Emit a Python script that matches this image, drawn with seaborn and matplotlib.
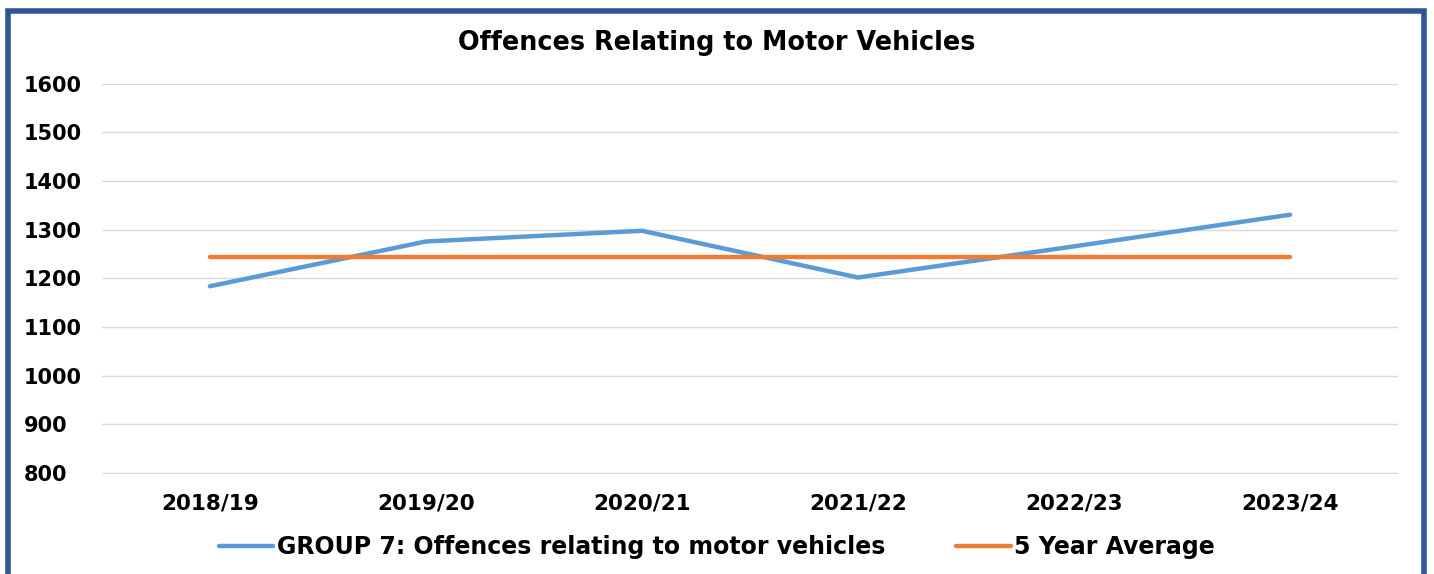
import numpy as np
import pandas as pd
import matplotlib.pyplot as plt
import seaborn as sns
from matplotlib.patches import Rectangle
from matplotlib.lines import Line2D

sns.set_style("white")
plt.rcParams['font.family'] = ['DejaVu Sans']
plt.rcParams['text.color'] = 'black'
plt.rcParams['xtick.color'] = 'black'
plt.rcParams['ytick.color'] = 'black'

years = ['2018/19', '2019/20', '2020/21', '2021/22', '2022/23', '2023/24']
offences = [1184, 1276, 1298, 1202, 1266, 1331]
five_year_avg = [1245, 1245, 1245, 1245, 1245, 1245]

series_names = ['GROUP 7: Offences relating to motor vehicles', '5 Year Average']
colors = {series_names[0]: '#5B9BD5', series_names[1]: '#ED7D31'}

df = pd.DataFrame({
    'Value': offences + five_year_avg,
    'Series': [series_names[0]] * len(years) + [series_names[1]] * len(years),
})
df['x'] = np.tile(np.arange(len(years)), 2)

fig = plt.figure(figsize=(14.34, 5.74), dpi=100)
ax = fig.add_axes([0.071, 0.174, 0.904, 0.680])

sns.lineplot(data=df, x='x', y='Value', hue='Series', palette=colors,
             linewidth=3.2, ax=ax, legend=False, solid_capstyle='round')

ax.set_xlim(-0.5, len(years) - 0.5)
ax.set_ylim(798, 1600)
ax.set_yticks(np.arange(800, 1601, 100))
ax.set_xticks(np.arange(len(years)))
ax.set_xticklabels(years, fontsize=15.5, fontweight='bold')
for lbl in ax.get_yticklabels():
    lbl.set_fontsize(15)
    lbl.set_fontweight('bold')
    lbl.set_horizontalalignment('left')
ax.tick_params(axis='y', pad=56, length=0)
ax.tick_params(axis='x', pad=14, length=0)
ax.grid(True, axis='y', color='#D9D9D9', linewidth=1)
ax.set_axisbelow(True)
for s in ax.spines.values():
    s.set_visible(False)
ax.set_xlabel('')
ax.set_ylabel('')

fig.text(0.5, 0.925, 'Offences Relating to Motor Vehicles', ha='center', va='center',
         fontsize=18.4, fontweight='bold')

handles = [Line2D([0], [0], color=colors[n], linewidth=3.2) for n in series_names]
fig.legend(handles, series_names, loc='center', bbox_to_anchor=(0.5, 0.047), ncol=2,
           frameon=False, prop={'size': 17, 'weight': 'bold'}, handlelength=2.3,
           handletextpad=0.15, columnspacing=3.0)

fig.patches.append(Rectangle((8 / 1434, -0.05), 1416 / 1434, 1.05 - 11 / 574,
                             transform=fig.transFigure, fill=False,
                             edgecolor='#2F5597', linewidth=4, zorder=10))

fig.savefig('out.png', dpi=100)
